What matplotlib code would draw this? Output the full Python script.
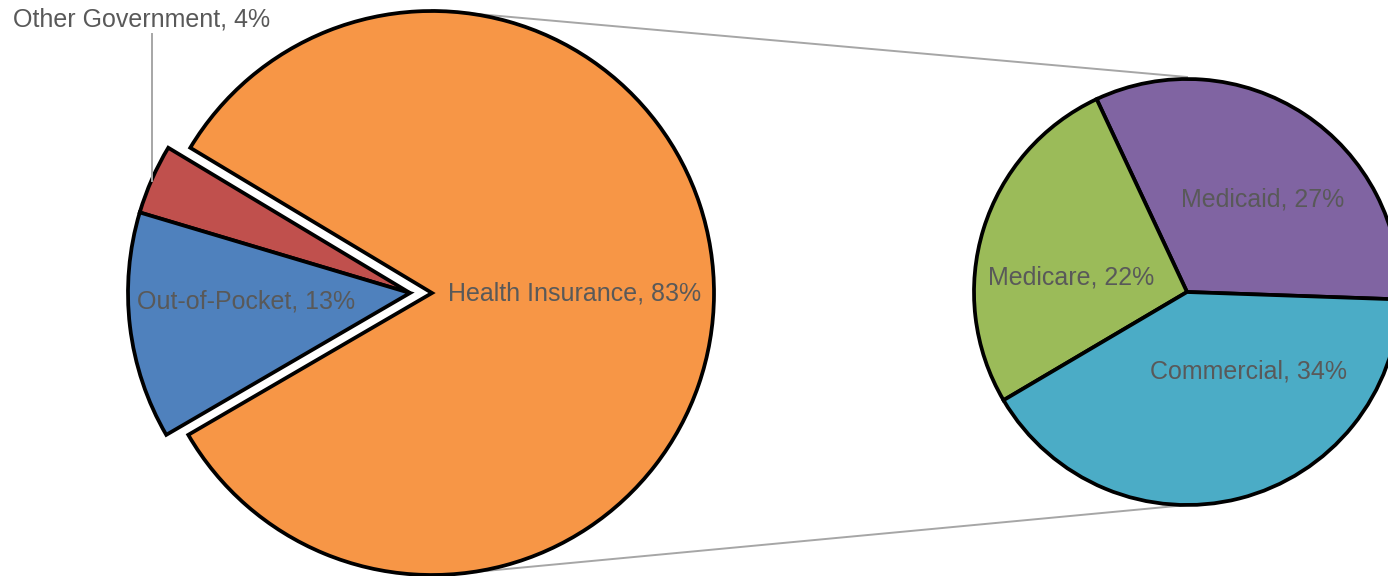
import matplotlib
matplotlib.use("Agg")
import matplotlib.pyplot as plt

# ---- data ----
main_labels = ["Health Insurance", "Other Government", "Out-of-Pocket"]
main_values = [83, 4, 13]
main_colors = ["#F79646", "#C0504D", "#4F81BD"]

sub_labels = ["Medicaid", "Medicare", "Commercial"]
sub_values = [27, 22, 34]
sub_colors = ["#8064A2", "#9BBB59", "#4BACC6"]

plt.rcParams["font.family"] = ["Liberation Sans", "DejaVu Sans"]

W, H = 1388, 576
fig = plt.figure(figsize=(W / 100, H / 100), dpi=100)
ax = fig.add_axes([0, 0, 1, 1])

def Y(py):
    return H - py

R1 = 282
C_big = (432, Y(293))
C_small = (410, Y(293))
R2 = 213
C_sub = (1187, Y(292))

start = 210.2

wp = dict(edgecolor="black", linewidth=2.7, joinstyle="miter")

w1, _ = ax.pie(main_values, colors=main_colors, startangle=start, center=C_big,
               radius=R1, wedgeprops=wp, frame=True)
for w in w1[1:]:
    w.set_visible(False)
w2, _ = ax.pie(main_values, colors=main_colors, startangle=start, center=C_small,
               radius=R1, wedgeprops=wp, frame=True)
w2[0].set_visible(False)

w3, _ = ax.pie(sub_values, colors=sub_colors, startangle=-2, center=C_sub,
               radius=R2, wedgeprops=wp, frame=True)

ax.set_xlim(0, W)
ax.set_ylim(0, H)
ax.set_aspect("equal")
ax.axis("off")

# connector lines (behind pies)
ax.plot([C_big[0], C_sub[0]], [C_big[1] + R1 + 1, C_sub[1] + R2 + 2], color="#A6A6A6", lw=1.4, zorder=0)
ax.plot([C_big[0], C_sub[0]], [C_big[1] - R1 - 1, C_sub[1] - R2], color="#A6A6A6", lw=1.4, zorder=0)

# leader line for Other Government
ax.plot([152, 152], [Y(34), Y(181)], color="#A6A6A6", lw=1.4, zorder=5)

tc = "#595959"
fs = 18
def lab(name, v):
    return f"{name}, {v}%"

ax.text(448, Y(293), lab(main_labels[0], main_values[0]), color=tc, fontsize=fs, va="center", ha="left", zorder=10)
ax.text(137, Y(302), lab(main_labels[2], main_values[2]), color=tc, fontsize=fs, va="center", ha="left", zorder=10)
ax.text(13, Y(20), lab(main_labels[1], main_values[1]), color=tc, fontsize=fs, va="center", ha="left", zorder=10)
ax.text(1181, Y(200), lab(sub_labels[0], sub_values[0]), color=tc, fontsize=fs, va="center", ha="left", zorder=10)
ax.text(988, Y(278), lab(sub_labels[1], sub_values[1]), color=tc, fontsize=fs, va="center", ha="left", zorder=10)
ax.text(1150, Y(372), lab(sub_labels[2], sub_values[2]), color=tc, fontsize=fs, va="center", ha="left", zorder=10)

fig.savefig("out.png", dpi=100)
